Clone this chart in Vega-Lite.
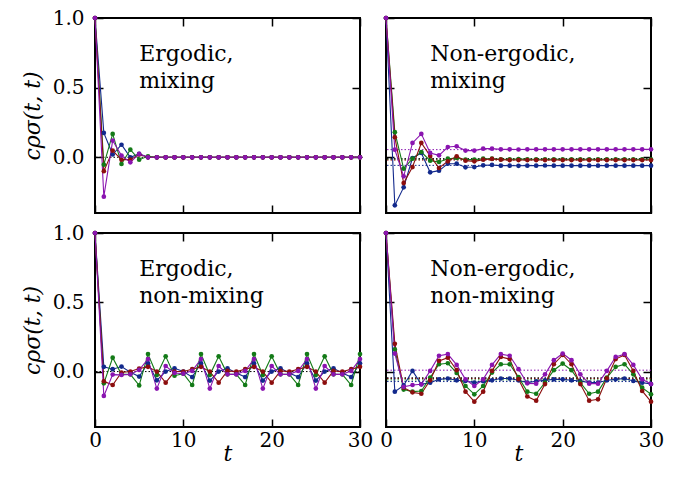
{
  "$schema": "https://vega.github.io/schema/vega-lite/v6.json",
  "padding": {"left": 20, "top": 7, "right": 5, "bottom": 5},
  "background": "white",
  "config": {
    "font": "DejaVu Serif",
    "view": {"stroke": "black", "strokeWidth": 2},
    "axis": {"domain": false, "grid": false, "ticks": true, "tickColor": "black", "tickWidth": 1.5, "tickSize": 8, "offset": -8, "labelColor": "black", "titleColor": "black", "labelFlush": false, "labelOverlap": false, "labelBound": false, "minExtent": 0, "titleFontWeight": "normal"}
  },
  "datasets": {
    "labels": [
      {"panel": "EM", "text": ["Ergodic,", "mixing"]},
      {"panel": "NM", "text": ["Non-ergodic,", "mixing"]},
      {"panel": "EN", "text": ["Ergodic,", "non-mixing"]},
      {"panel": "NN", "text": ["Non-ergodic,", "non-mixing"]}
    ],
    "refs": [
      {"panel": "EM", "series": "mean", "c": 0},
      {"panel": "EN", "series": "mean", "c": 0},
      {"panel": "NM", "series": "s4", "c": 0.055},
      {"panel": "NM", "series": "s2", "c": -0.014},
      {"panel": "NM", "series": "s3", "c": -0.02},
      {"panel": "NM", "series": "s1", "c": -0.058},
      {"panel": "NM", "series": "mean", "c": -0.01},
      {"panel": "NN", "series": "s4", "c": 0.01},
      {"panel": "NN", "series": "s3", "c": -0.05},
      {"panel": "NN", "series": "s2", "c": -0.06},
      {"panel": "NN", "series": "s1", "c": -0.072},
      {"panel": "NN", "series": "mean", "c": -0.045}
    ],
    "series": [
      {"panel":"EM","series":"s1","t":0,"c":1.0},{"panel":"EM","series":"s1","t":1,"c":0.175},{"panel":"EM","series":"s1","t":2,"c":0.02},{"panel":"EM","series":"s1","t":3,"c":0.09},{"panel":"EM","series":"s1","t":4,"c":0.0},{"panel":"EM","series":"s1","t":5,"c":0.024},{"panel":"EM","series":"s1","t":6,"c":0.0},{"panel":"EM","series":"s1","t":7,"c":0},{"panel":"EM","series":"s1","t":8,"c":0},{"panel":"EM","series":"s1","t":9,"c":0},{"panel":"EM","series":"s1","t":10,"c":0},{"panel":"EM","series":"s1","t":11,"c":0},{"panel":"EM","series":"s1","t":12,"c":0},{"panel":"EM","series":"s1","t":13,"c":0},{"panel":"EM","series":"s1","t":14,"c":0},{"panel":"EM","series":"s1","t":15,"c":0},{"panel":"EM","series":"s1","t":16,"c":0},{"panel":"EM","series":"s1","t":17,"c":0},{"panel":"EM","series":"s1","t":18,"c":0},{"panel":"EM","series":"s1","t":19,"c":0},{"panel":"EM","series":"s1","t":20,"c":0},{"panel":"EM","series":"s1","t":21,"c":0},{"panel":"EM","series":"s1","t":22,"c":0},{"panel":"EM","series":"s1","t":23,"c":0},{"panel":"EM","series":"s1","t":24,"c":0},{"panel":"EM","series":"s1","t":25,"c":0},{"panel":"EM","series":"s1","t":26,"c":0},{"panel":"EM","series":"s1","t":27,"c":0},{"panel":"EM","series":"s1","t":28,"c":0},{"panel":"EM","series":"s1","t":29,"c":0},{"panel":"EM","series":"s1","t":30,"c":0},
      {"panel":"EM","series":"s2","t":0,"c":1.0},{"panel":"EM","series":"s2","t":1,"c":-0.053},{"panel":"EM","series":"s2","t":2,"c":0.168},{"panel":"EM","series":"s2","t":3,"c":-0.048},{"panel":"EM","series":"s2","t":4,"c":0.055},{"panel":"EM","series":"s2","t":5,"c":-0.017},{"panel":"EM","series":"s2","t":6,"c":0.007},{"panel":"EM","series":"s2","t":7,"c":0},{"panel":"EM","series":"s2","t":8,"c":0},{"panel":"EM","series":"s2","t":9,"c":0},{"panel":"EM","series":"s2","t":10,"c":0},{"panel":"EM","series":"s2","t":11,"c":0},{"panel":"EM","series":"s2","t":12,"c":0},{"panel":"EM","series":"s2","t":13,"c":0},{"panel":"EM","series":"s2","t":14,"c":0},{"panel":"EM","series":"s2","t":15,"c":0},{"panel":"EM","series":"s2","t":16,"c":0},{"panel":"EM","series":"s2","t":17,"c":0},{"panel":"EM","series":"s2","t":18,"c":0},{"panel":"EM","series":"s2","t":19,"c":0},{"panel":"EM","series":"s2","t":20,"c":0},{"panel":"EM","series":"s2","t":21,"c":0},{"panel":"EM","series":"s2","t":22,"c":0},{"panel":"EM","series":"s2","t":23,"c":0},{"panel":"EM","series":"s2","t":24,"c":0},{"panel":"EM","series":"s2","t":25,"c":0},{"panel":"EM","series":"s2","t":26,"c":0},{"panel":"EM","series":"s2","t":27,"c":0},{"panel":"EM","series":"s2","t":28,"c":0},{"panel":"EM","series":"s2","t":29,"c":0},{"panel":"EM","series":"s2","t":30,"c":0},
      {"panel":"EM","series":"s3","t":0,"c":1.0},{"panel":"EM","series":"s3","t":1,"c":-0.1},{"panel":"EM","series":"s3","t":2,"c":0.048},{"panel":"EM","series":"s3","t":3,"c":-0.017},{"panel":"EM","series":"s3","t":4,"c":-0.017},{"panel":"EM","series":"s3","t":5,"c":0.02},{"panel":"EM","series":"s3","t":6,"c":0.0},{"panel":"EM","series":"s3","t":7,"c":0},{"panel":"EM","series":"s3","t":8,"c":0},{"panel":"EM","series":"s3","t":9,"c":0},{"panel":"EM","series":"s3","t":10,"c":0},{"panel":"EM","series":"s3","t":11,"c":0},{"panel":"EM","series":"s3","t":12,"c":0},{"panel":"EM","series":"s3","t":13,"c":0},{"panel":"EM","series":"s3","t":14,"c":0},{"panel":"EM","series":"s3","t":15,"c":0},{"panel":"EM","series":"s3","t":16,"c":0},{"panel":"EM","series":"s3","t":17,"c":0},{"panel":"EM","series":"s3","t":18,"c":0},{"panel":"EM","series":"s3","t":19,"c":0},{"panel":"EM","series":"s3","t":20,"c":0},{"panel":"EM","series":"s3","t":21,"c":0},{"panel":"EM","series":"s3","t":22,"c":0},{"panel":"EM","series":"s3","t":23,"c":0},{"panel":"EM","series":"s3","t":24,"c":0},{"panel":"EM","series":"s3","t":25,"c":0},{"panel":"EM","series":"s3","t":26,"c":0},{"panel":"EM","series":"s3","t":27,"c":0},{"panel":"EM","series":"s3","t":28,"c":0},{"panel":"EM","series":"s3","t":29,"c":0},{"panel":"EM","series":"s3","t":30,"c":0},
      {"panel":"EM","series":"s4","t":0,"c":1.0},{"panel":"EM","series":"s4","t":1,"c":-0.283},{"panel":"EM","series":"s4","t":2,"c":0.12},{"panel":"EM","series":"s4","t":3,"c":0.012},{"panel":"EM","series":"s4","t":4,"c":-0.036},{"panel":"EM","series":"s4","t":5,"c":0.024},{"panel":"EM","series":"s4","t":6,"c":0.0},{"panel":"EM","series":"s4","t":7,"c":0},{"panel":"EM","series":"s4","t":8,"c":0},{"panel":"EM","series":"s4","t":9,"c":0},{"panel":"EM","series":"s4","t":10,"c":0},{"panel":"EM","series":"s4","t":11,"c":0},{"panel":"EM","series":"s4","t":12,"c":0},{"panel":"EM","series":"s4","t":13,"c":0},{"panel":"EM","series":"s4","t":14,"c":0},{"panel":"EM","series":"s4","t":15,"c":0},{"panel":"EM","series":"s4","t":16,"c":0},{"panel":"EM","series":"s4","t":17,"c":0},{"panel":"EM","series":"s4","t":18,"c":0},{"panel":"EM","series":"s4","t":19,"c":0},{"panel":"EM","series":"s4","t":20,"c":0},{"panel":"EM","series":"s4","t":21,"c":0},{"panel":"EM","series":"s4","t":22,"c":0},{"panel":"EM","series":"s4","t":23,"c":0},{"panel":"EM","series":"s4","t":24,"c":0},{"panel":"EM","series":"s4","t":25,"c":0},{"panel":"EM","series":"s4","t":26,"c":0},{"panel":"EM","series":"s4","t":27,"c":0},{"panel":"EM","series":"s4","t":28,"c":0},{"panel":"EM","series":"s4","t":29,"c":0},{"panel":"EM","series":"s4","t":30,"c":0},

      {"panel":"NM","series":"s1","t":0,"c":1.0},{"panel":"NM","series":"s1","t":1,"c":-0.345},{"panel":"NM","series":"s1","t":2,"c":-0.216},{"panel":"NM","series":"s1","t":3,"c":-0.005},{"panel":"NM","series":"s1","t":4,"c":0.031},{"panel":"NM","series":"s1","t":5,"c":-0.108},{"panel":"NM","series":"s1","t":6,"c":-0.096},{"panel":"NM","series":"s1","t":7,"c":-0.046},{"panel":"NM","series":"s1","t":8,"c":-0.046},{"panel":"NM","series":"s1","t":9,"c":-0.072},{"panel":"NM","series":"s1","t":10,"c":-0.07},{"panel":"NM","series":"s1","t":11,"c":-0.058},{"panel":"NM","series":"s1","t":12,"c":-0.055},{"panel":"NM","series":"s1","t":13,"c":-0.06},{"panel":"NM","series":"s1","t":14,"c":-0.06},{"panel":"NM","series":"s1","t":15,"c":-0.061},{"panel":"NM","series":"s1","t":16,"c":-0.06},{"panel":"NM","series":"s1","t":17,"c":-0.06},{"panel":"NM","series":"s1","t":18,"c":-0.059},{"panel":"NM","series":"s1","t":19,"c":-0.06},{"panel":"NM","series":"s1","t":20,"c":-0.06},{"panel":"NM","series":"s1","t":21,"c":-0.06},{"panel":"NM","series":"s1","t":22,"c":-0.06},{"panel":"NM","series":"s1","t":23,"c":-0.06},{"panel":"NM","series":"s1","t":24,"c":-0.06},{"panel":"NM","series":"s1","t":25,"c":-0.06},{"panel":"NM","series":"s1","t":26,"c":-0.06},{"panel":"NM","series":"s1","t":27,"c":-0.06},{"panel":"NM","series":"s1","t":28,"c":-0.06},{"panel":"NM","series":"s1","t":29,"c":-0.06},{"panel":"NM","series":"s1","t":30,"c":-0.06},
      {"panel":"NM","series":"s2","t":0,"c":1.0},{"panel":"NM","series":"s2","t":1,"c":0.18},{"panel":"NM","series":"s2","t":2,"c":-0.082},{"panel":"NM","series":"s2","t":3,"c":-0.01},{"panel":"NM","series":"s2","t":4,"c":0.038},{"panel":"NM","series":"s2","t":5,"c":-0.024},{"panel":"NM","series":"s2","t":6,"c":-0.034},{"panel":"NM","series":"s2","t":7,"c":-0.01},{"panel":"NM","series":"s2","t":8,"c":-0.005},{"panel":"NM","series":"s2","t":9,"c":-0.017},{"panel":"NM","series":"s2","t":10,"c":-0.017},{"panel":"NM","series":"s2","t":11,"c":-0.01},{"panel":"NM","series":"s2","t":12,"c":-0.01},{"panel":"NM","series":"s2","t":13,"c":-0.014},{"panel":"NM","series":"s2","t":14,"c":-0.014},{"panel":"NM","series":"s2","t":15,"c":-0.013},{"panel":"NM","series":"s2","t":16,"c":-0.014},{"panel":"NM","series":"s2","t":17,"c":-0.014},{"panel":"NM","series":"s2","t":18,"c":-0.014},{"panel":"NM","series":"s2","t":19,"c":-0.014},{"panel":"NM","series":"s2","t":20,"c":-0.014},{"panel":"NM","series":"s2","t":21,"c":-0.014},{"panel":"NM","series":"s2","t":22,"c":-0.014},{"panel":"NM","series":"s2","t":23,"c":-0.014},{"panel":"NM","series":"s2","t":24,"c":-0.014},{"panel":"NM","series":"s2","t":25,"c":-0.014},{"panel":"NM","series":"s2","t":26,"c":-0.014},{"panel":"NM","series":"s2","t":27,"c":-0.014},{"panel":"NM","series":"s2","t":28,"c":-0.014},{"panel":"NM","series":"s2","t":29,"c":-0.014},{"panel":"NM","series":"s2","t":30,"c":-0.014},
      {"panel":"NM","series":"s3","t":0,"c":1.0},{"panel":"NM","series":"s3","t":1,"c":0.144},{"panel":"NM","series":"s3","t":2,"c":-0.185},{"panel":"NM","series":"s3","t":3,"c":-0.07},{"panel":"NM","series":"s3","t":4,"c":0.103},{"panel":"NM","series":"s3","t":5,"c":0.01},{"panel":"NM","series":"s3","t":6,"c":-0.077},{"panel":"NM","series":"s3","t":7,"c":-0.029},{"panel":"NM","series":"s3","t":8,"c":0.007},{"panel":"NM","series":"s3","t":9,"c":-0.024},{"panel":"NM","series":"s3","t":10,"c":-0.029},{"panel":"NM","series":"s3","t":11,"c":-0.017},{"panel":"NM","series":"s3","t":12,"c":-0.012},{"panel":"NM","series":"s3","t":13,"c":-0.017},{"panel":"NM","series":"s3","t":14,"c":-0.02},{"panel":"NM","series":"s3","t":15,"c":-0.02},{"panel":"NM","series":"s3","t":16,"c":-0.02},{"panel":"NM","series":"s3","t":17,"c":-0.02},{"panel":"NM","series":"s3","t":18,"c":-0.02},{"panel":"NM","series":"s3","t":19,"c":-0.02},{"panel":"NM","series":"s3","t":20,"c":-0.02},{"panel":"NM","series":"s3","t":21,"c":-0.02},{"panel":"NM","series":"s3","t":22,"c":-0.02},{"panel":"NM","series":"s3","t":23,"c":-0.02},{"panel":"NM","series":"s3","t":24,"c":-0.02},{"panel":"NM","series":"s3","t":25,"c":-0.02},{"panel":"NM","series":"s3","t":26,"c":-0.02},{"panel":"NM","series":"s3","t":27,"c":-0.02},{"panel":"NM","series":"s3","t":28,"c":-0.02},{"panel":"NM","series":"s3","t":29,"c":-0.02},{"panel":"NM","series":"s3","t":30,"c":-0.02},
      {"panel":"NM","series":"s4","t":0,"c":1.0},{"panel":"NM","series":"s4","t":1,"c":0.055},{"panel":"NM","series":"s4","t":2,"c":-0.137},{"panel":"NM","series":"s4","t":3,"c":0.103},{"panel":"NM","series":"s4","t":4,"c":0.168},{"panel":"NM","series":"s4","t":5,"c":0.031},{"panel":"NM","series":"s4","t":6,"c":0.014},{"panel":"NM","series":"s4","t":7,"c":0.074},{"panel":"NM","series":"s4","t":8,"c":0.079},{"panel":"NM","series":"s4","t":9,"c":0.048},{"panel":"NM","series":"s4","t":10,"c":0.048},{"panel":"NM","series":"s4","t":11,"c":0.062},{"panel":"NM","series":"s4","t":12,"c":0.062},{"panel":"NM","series":"s4","t":13,"c":0.057},{"panel":"NM","series":"s4","t":14,"c":0.057},{"panel":"NM","series":"s4","t":15,"c":0.056},{"panel":"NM","series":"s4","t":16,"c":0.057},{"panel":"NM","series":"s4","t":17,"c":0.057},{"panel":"NM","series":"s4","t":18,"c":0.057},{"panel":"NM","series":"s4","t":19,"c":0.057},{"panel":"NM","series":"s4","t":20,"c":0.057},{"panel":"NM","series":"s4","t":21,"c":0.057},{"panel":"NM","series":"s4","t":22,"c":0.057},{"panel":"NM","series":"s4","t":23,"c":0.057},{"panel":"NM","series":"s4","t":24,"c":0.057},{"panel":"NM","series":"s4","t":25,"c":0.057},{"panel":"NM","series":"s4","t":26,"c":0.057},{"panel":"NM","series":"s4","t":27,"c":0.057},{"panel":"NM","series":"s4","t":28,"c":0.057},{"panel":"NM","series":"s4","t":29,"c":0.057},{"panel":"NM","series":"s4","t":30,"c":0.057},

      {"panel":"EN","series":"s1","t":0,"c":1.0},{"panel":"EN","series":"s1","t":1,"c":0.034},{"panel":"EN","series":"s1","t":2,"c":0.017},{"panel":"EN","series":"s1","t":3,"c":0.036},{"panel":"EN","series":"s1","t":4,"c":-0.005},{"panel":"EN","series":"s1","t":5,"c":-0.036},{"panel":"EN","series":"s1","t":6,"c":0.06},{"panel":"EN","series":"s1","t":7,"c":-0.063},{"panel":"EN","series":"s1","t":8,"c":0.0},{"panel":"EN","series":"s1","t":9,"c":0.024},{"panel":"EN","series":"s1","t":10,"c":0.0},{"panel":"EN","series":"s1","t":11,"c":-0.04},{"panel":"EN","series":"s1","t":12,"c":0.06},{"panel":"EN","series":"s1","t":13,"c":-0.065},{"panel":"EN","series":"s1","t":14,"c":0.0},{"panel":"EN","series":"s1","t":15,"c":0.024},{"panel":"EN","series":"s1","t":16,"c":-0.01},{"panel":"EN","series":"s1","t":17,"c":-0.04},{"panel":"EN","series":"s1","t":18,"c":0.06},{"panel":"EN","series":"s1","t":19,"c":-0.065},{"panel":"EN","series":"s1","t":20,"c":0.0},{"panel":"EN","series":"s1","t":21,"c":0.024},{"panel":"EN","series":"s1","t":22,"c":-0.01},{"panel":"EN","series":"s1","t":23,"c":-0.04},{"panel":"EN","series":"s1","t":24,"c":0.06},{"panel":"EN","series":"s1","t":25,"c":-0.065},{"panel":"EN","series":"s1","t":26,"c":0.0},{"panel":"EN","series":"s1","t":27,"c":0.024},{"panel":"EN","series":"s1","t":28,"c":-0.01},{"panel":"EN","series":"s1","t":29,"c":-0.04},{"panel":"EN","series":"s1","t":30,"c":0.06},
      {"panel":"EN","series":"s2","t":0,"c":1.0},{"panel":"EN","series":"s2","t":1,"c":-0.085},{"panel":"EN","series":"s2","t":2,"c":0.10},{"panel":"EN","series":"s2","t":3,"c":-0.02},{"panel":"EN","series":"s2","t":4,"c":-0.02},{"panel":"EN","series":"s2","t":5,"c":-0.1},{"panel":"EN","series":"s2","t":6,"c":0.126},{"panel":"EN","series":"s2","t":7,"c":-0.025},{"panel":"EN","series":"s2","t":8,"c":0.11},{"panel":"EN","series":"s2","t":9,"c":-0.03},{"panel":"EN","series":"s2","t":10,"c":-0.015},{"panel":"EN","series":"s2","t":11,"c":-0.097},{"panel":"EN","series":"s2","t":12,"c":0.126},{"panel":"EN","series":"s2","t":13,"c":-0.025},{"panel":"EN","series":"s2","t":14,"c":0.11},{"panel":"EN","series":"s2","t":15,"c":-0.02},{"panel":"EN","series":"s2","t":16,"c":-0.02},{"panel":"EN","series":"s2","t":17,"c":-0.097},{"panel":"EN","series":"s2","t":18,"c":0.126},{"panel":"EN","series":"s2","t":19,"c":-0.025},{"panel":"EN","series":"s2","t":20,"c":0.11},{"panel":"EN","series":"s2","t":21,"c":-0.02},{"panel":"EN","series":"s2","t":22,"c":-0.02},{"panel":"EN","series":"s2","t":23,"c":-0.097},{"panel":"EN","series":"s2","t":24,"c":0.126},{"panel":"EN","series":"s2","t":25,"c":-0.025},{"panel":"EN","series":"s2","t":26,"c":0.11},{"panel":"EN","series":"s2","t":27,"c":-0.02},{"panel":"EN","series":"s2","t":28,"c":-0.02},{"panel":"EN","series":"s2","t":29,"c":-0.097},{"panel":"EN","series":"s2","t":30,"c":0.126},
      {"panel":"EN","series":"s3","t":0,"c":1.0},{"panel":"EN","series":"s3","t":1,"c":-0.07},{"panel":"EN","series":"s3","t":2,"c":-0.097},{"panel":"EN","series":"s3","t":3,"c":-0.007},{"panel":"EN","series":"s3","t":4,"c":0.0},{"panel":"EN","series":"s3","t":5,"c":0.022},{"panel":"EN","series":"s3","t":6,"c":0.034},{"panel":"EN","series":"s3","t":7,"c":0.0},{"panel":"EN","series":"s3","t":8,"c":-0.08},{"panel":"EN","series":"s3","t":9,"c":0.0},{"panel":"EN","series":"s3","t":10,"c":0.0},{"panel":"EN","series":"s3","t":11,"c":0.017},{"panel":"EN","series":"s3","t":12,"c":0.034},{"panel":"EN","series":"s3","t":13,"c":0.0},{"panel":"EN","series":"s3","t":14,"c":-0.08},{"panel":"EN","series":"s3","t":15,"c":0.005},{"panel":"EN","series":"s3","t":16,"c":0.0},{"panel":"EN","series":"s3","t":17,"c":0.017},{"panel":"EN","series":"s3","t":18,"c":0.034},{"panel":"EN","series":"s3","t":19,"c":0.0},{"panel":"EN","series":"s3","t":20,"c":-0.08},{"panel":"EN","series":"s3","t":21,"c":0.005},{"panel":"EN","series":"s3","t":22,"c":0.0},{"panel":"EN","series":"s3","t":23,"c":0.017},{"panel":"EN","series":"s3","t":24,"c":0.034},{"panel":"EN","series":"s3","t":25,"c":0.0},{"panel":"EN","series":"s3","t":26,"c":-0.08},{"panel":"EN","series":"s3","t":27,"c":0.005},{"panel":"EN","series":"s3","t":28,"c":0.0},{"panel":"EN","series":"s3","t":29,"c":0.017},{"panel":"EN","series":"s3","t":30,"c":0.034},
      {"panel":"EN","series":"s4","t":0,"c":1.0},{"panel":"EN","series":"s4","t":1,"c":-0.176},{"panel":"EN","series":"s4","t":2,"c":-0.022},{"panel":"EN","series":"s4","t":3,"c":-0.024},{"panel":"EN","series":"s4","t":4,"c":-0.02},{"panel":"EN","series":"s4","t":5,"c":0.012},{"panel":"EN","series":"s4","t":6,"c":0.09},{"panel":"EN","series":"s4","t":7,"c":-0.123},{"panel":"EN","series":"s4","t":8,"c":0.04},{"panel":"EN","series":"s4","t":9,"c":-0.01},{"panel":"EN","series":"s4","t":10,"c":-0.015},{"panel":"EN","series":"s4","t":11,"c":0.005},{"panel":"EN","series":"s4","t":12,"c":0.09},{"panel":"EN","series":"s4","t":13,"c":-0.123},{"panel":"EN","series":"s4","t":14,"c":0.04},{"panel":"EN","series":"s4","t":15,"c":-0.02},{"panel":"EN","series":"s4","t":16,"c":-0.02},{"panel":"EN","series":"s4","t":17,"c":0.005},{"panel":"EN","series":"s4","t":18,"c":0.09},{"panel":"EN","series":"s4","t":19,"c":-0.123},{"panel":"EN","series":"s4","t":20,"c":0.04},{"panel":"EN","series":"s4","t":21,"c":-0.02},{"panel":"EN","series":"s4","t":22,"c":-0.02},{"panel":"EN","series":"s4","t":23,"c":0.005},{"panel":"EN","series":"s4","t":24,"c":0.09},{"panel":"EN","series":"s4","t":25,"c":-0.123},{"panel":"EN","series":"s4","t":26,"c":0.04},{"panel":"EN","series":"s4","t":27,"c":-0.02},{"panel":"EN","series":"s4","t":28,"c":-0.02},{"panel":"EN","series":"s4","t":29,"c":0.005},{"panel":"EN","series":"s4","t":30,"c":0.09},

      {"panel":"NN","series":"s1","t":0,"c":1.0},{"panel":"NN","series":"s1","t":1,"c":-0.145},{"panel":"NN","series":"s1","t":2,"c":-0.1},{"panel":"NN","series":"s1","t":3,"c":0.005},{"panel":"NN","series":"s1","t":4,"c":-0.092},{"panel":"NN","series":"s1","t":5,"c":-0.08},{"panel":"NN","series":"s1","t":6,"c":-0.056},{"panel":"NN","series":"s1","t":7,"c":-0.05},{"panel":"NN","series":"s1","t":8,"c":-0.063},{"panel":"NN","series":"s1","t":9,"c":-0.068},{"panel":"NN","series":"s1","t":10,"c":-0.08},{"panel":"NN","series":"s1","t":11,"c":-0.07},{"panel":"NN","series":"s1","t":12,"c":-0.063},{"panel":"NN","series":"s1","t":13,"c":-0.05},{"panel":"NN","series":"s1","t":14,"c":-0.05},{"panel":"NN","series":"s1","t":15,"c":-0.063},{"panel":"NN","series":"s1","t":16,"c":-0.08},{"panel":"NN","series":"s1","t":17,"c":-0.07},{"panel":"NN","series":"s1","t":18,"c":-0.063},{"panel":"NN","series":"s1","t":19,"c":-0.056},{"panel":"NN","series":"s1","t":20,"c":-0.056},{"panel":"NN","series":"s1","t":21,"c":-0.063},{"panel":"NN","series":"s1","t":22,"c":-0.068},{"panel":"NN","series":"s1","t":23,"c":-0.08},{"panel":"NN","series":"s1","t":24,"c":-0.08},{"panel":"NN","series":"s1","t":25,"c":-0.063},{"panel":"NN","series":"s1","t":26,"c":-0.056},{"panel":"NN","series":"s1","t":27,"c":-0.05},{"panel":"NN","series":"s1","t":28,"c":-0.068},{"panel":"NN","series":"s1","t":29,"c":-0.08},{"panel":"NN","series":"s1","t":30,"c":-0.09},
      {"panel":"NN","series":"s2","t":0,"c":1.0},{"panel":"NN","series":"s2","t":1,"c":0.16},{"panel":"NN","series":"s2","t":2,"c":-0.13},{"panel":"NN","series":"s2","t":3,"c":-0.145},{"panel":"NN","series":"s2","t":4,"c":-0.14},{"panel":"NN","series":"s2","t":5,"c":-0.043},{"panel":"NN","series":"s2","t":6,"c":0.053},{"panel":"NN","series":"s2","t":7,"c":0.06},{"panel":"NN","series":"s2","t":8,"c":-0.01},{"panel":"NN","series":"s2","t":9,"c":-0.104},{"panel":"NN","series":"s2","t":10,"c":-0.164},{"panel":"NN","series":"s2","t":11,"c":-0.104},{"panel":"NN","series":"s2","t":12,"c":-0.007},{"panel":"NN","series":"s2","t":13,"c":0.053},{"panel":"NN","series":"s2","t":14,"c":0.053},{"panel":"NN","series":"s2","t":15,"c":-0.04},{"panel":"NN","series":"s2","t":16,"c":-0.145},{"panel":"NN","series":"s2","t":17,"c":-0.16},{"panel":"NN","series":"s2","t":18,"c":-0.08},{"panel":"NN","series":"s2","t":19,"c":0.01},{"panel":"NN","series":"s2","t":20,"c":0.058},{"panel":"NN","series":"s2","t":21,"c":0.01},{"panel":"NN","series":"s2","t":22,"c":-0.08},{"panel":"NN","series":"s2","t":23,"c":-0.16},{"panel":"NN","series":"s2","t":24,"c":-0.145},{"panel":"NN","series":"s2","t":25,"c":-0.043},{"panel":"NN","series":"s2","t":26,"c":0.034},{"panel":"NN","series":"s2","t":27,"c":0.053},{"panel":"NN","series":"s2","t":28,"c":-0.02},{"panel":"NN","series":"s2","t":29,"c":-0.116},{"panel":"NN","series":"s2","t":30,"c":-0.164},
      {"panel":"NN","series":"s3","t":0,"c":1.0},{"panel":"NN","series":"s3","t":1,"c":0.2},{"panel":"NN","series":"s3","t":2,"c":-0.116},{"panel":"NN","series":"s3","t":3,"c":-0.15},{"panel":"NN","series":"s3","t":4,"c":-0.16},{"panel":"NN","series":"s3","t":5,"c":-0.063},{"panel":"NN","series":"s3","t":6,"c":0.077},{"panel":"NN","series":"s3","t":7,"c":0.1},{"panel":"NN","series":"s3","t":8,"c":0.01},{"panel":"NN","series":"s3","t":9,"c":-0.145},{"panel":"NN","series":"s3","t":10,"c":-0.217},{"panel":"NN","series":"s3","t":11,"c":-0.145},{"panel":"NN","series":"s3","t":12,"c":0.005},{"panel":"NN","series":"s3","t":13,"c":0.106},{"panel":"NN","series":"s3","t":14,"c":0.09},{"panel":"NN","series":"s3","t":15,"c":-0.055},{"panel":"NN","series":"s3","t":16,"c":-0.18},{"panel":"NN","series":"s3","t":17,"c":-0.21},{"panel":"NN","series":"s3","t":18,"c":-0.09},{"panel":"NN","series":"s3","t":19,"c":0.053},{"panel":"NN","series":"s3","t":20,"c":0.12},{"panel":"NN","series":"s3","t":21,"c":0.053},{"panel":"NN","series":"s3","t":22,"c":-0.09},{"panel":"NN","series":"s3","t":23,"c":-0.21},{"panel":"NN","series":"s3","t":24,"c":-0.2},{"panel":"NN","series":"s3","t":25,"c":-0.048},{"panel":"NN","series":"s3","t":26,"c":0.09},{"panel":"NN","series":"s3","t":27,"c":0.12},{"panel":"NN","series":"s3","t":28,"c":0.005},{"panel":"NN","series":"s3","t":29,"c":-0.14},{"panel":"NN","series":"s3","t":30,"c":-0.217},
      {"panel":"NN","series":"s4","t":0,"c":1.0},{"panel":"NN","series":"s4","t":1,"c":0.13},{"panel":"NN","series":"s4","t":2,"c":-0.11},{"panel":"NN","series":"s4","t":3,"c":-0.097},{"panel":"NN","series":"s4","t":4,"c":-0.092},{"panel":"NN","series":"s4","t":5,"c":0.005},{"panel":"NN","series":"s4","t":6,"c":0.114},{"panel":"NN","series":"s4","t":7,"c":0.126},{"panel":"NN","series":"s4","t":8,"c":0.048},{"panel":"NN","series":"s4","t":9,"c":-0.056},{"panel":"NN","series":"s4","t":10,"c":-0.104},{"panel":"NN","series":"s4","t":11,"c":-0.056},{"panel":"NN","series":"s4","t":12,"c":0.048},{"panel":"NN","series":"s4","t":13,"c":0.126},{"panel":"NN","series":"s4","t":14,"c":0.114},{"panel":"NN","series":"s4","t":15,"c":0.017},{"panel":"NN","series":"s4","t":16,"c":-0.085},{"panel":"NN","series":"s4","t":17,"c":-0.087},{"panel":"NN","series":"s4","t":18,"c":-0.02},{"panel":"NN","series":"s4","t":19,"c":0.082},{"panel":"NN","series":"s4","t":20,"c":0.13},{"panel":"NN","series":"s4","t":21,"c":0.082},{"panel":"NN","series":"s4","t":22,"c":-0.02},{"panel":"NN","series":"s4","t":23,"c":-0.087},{"panel":"NN","series":"s4","t":24,"c":-0.087},{"panel":"NN","series":"s4","t":25,"c":0.005},{"panel":"NN","series":"s4","t":26,"c":0.106},{"panel":"NN","series":"s4","t":27,"c":0.126},{"panel":"NN","series":"s4","t":28,"c":0.048},{"panel":"NN","series":"s4","t":29,"c":-0.056},{"panel":"NN","series":"s4","t":30,"c":-0.09}
    ]
  },
  "columns": 2,
  "bounds": "flush",
  "spacing": {"row": 20, "column": 26},
  "concat": [
    {
      "width": 265, "height": 195,
      "resolve": {"axis": {"x": "independent", "y": "independent"}},
      "layer": [
        {"data": {"name": "refs"}, "transform": [{"filter": "datum.panel === 'EM'"}],
         "mark": {"type": "rule", "strokeDash": [1.5, 2], "strokeWidth": 1},
         "encoding": {"y": {"field": "c", "type": "quantitative", "scale": {"domain": [-0.4, 1], "nice": false, "zero": false}, "axis": null},
                      "color": {"field": "series", "type": "nominal", "scale": {"domain": ["s1","s2","s3","s4","mean"], "range": ["#12298c","#137a17","#8c0e0e","#8a14b0","black"]}, "legend": null}}},
        {"data": {"name": "series"}, "transform": [{"filter": "datum.panel === 'EM'"}],
         "mark": {"type": "line", "strokeWidth": 1.1, "point": {"filled": true, "size": 22}},
         "encoding": {
           "x": {"field": "t", "type": "quantitative", "scale": {"domain": [0, 30], "nice": false, "zero": false}, "axis": {"orient": "bottom", "values": [0,10,20,30], "labels": false, "title": null}},
           "y": {"field": "c", "type": "quantitative", "scale": {"domain": [-0.4, 1], "nice": false, "zero": false}, "axis": {"orient": "left", "values": [0,0.5,1], "format": ".1f", "labelFontSize": 20, "labelPadding": 11, "title": "cρσ(t, t)", "titleFontSize": 22, "titleFontStyle": "italic", "titlePadding": 8}},
           "color": {"field": "series", "type": "nominal", "scale": {"domain": ["s1","s2","s3","s4","mean"], "range": ["#12298c","#137a17","#8c0e0e","#8a14b0","black"]}, "legend": null}}},
        {"data": {"name": "series"}, "transform": [{"filter": "datum.panel === 'EM'"}],
         "mark": {"type": "point", "opacity": 0},
         "encoding": {
           "x": {"field": "t", "type": "quantitative", "scale": {"domain": [0, 30], "nice": false, "zero": false}, "axis": {"orient": "top", "values": [0,10,20,30], "labels": false, "title": null}},
           "y": {"field": "c", "type": "quantitative", "scale": {"domain": [-0.4, 1], "nice": false, "zero": false}, "axis": {"orient": "right", "values": [0,0.5,1], "labels": false, "title": null}}}},
        {"data": {"name": "labels"}, "transform": [{"filter": "datum.panel === 'EM'"}],
         "mark": {"type": "text", "align": "left", "baseline": "alphabetic", "fontSize": 22, "lineHeight": 27, "color": "black"},
         "encoding": {"x": {"datum": 5, "type": "quantitative", "axis": null}, "y": {"datum": 0.69, "type": "quantitative", "axis": null}, "text": {"field": "text"}}}
      ]
    },
    {
      "width": 265, "height": 195,
      "resolve": {"axis": {"x": "independent", "y": "independent"}},
      "layer": [
        {"data": {"name": "refs"}, "transform": [{"filter": "datum.panel === 'NM'"}],
         "mark": {"type": "rule", "strokeDash": [1.5, 2], "strokeWidth": 1},
         "encoding": {"y": {"field": "c", "type": "quantitative", "scale": {"domain": [-0.4, 1], "nice": false, "zero": false}, "axis": null},
                      "color": {"field": "series", "type": "nominal", "scale": {"domain": ["s1","s2","s3","s4","mean"], "range": ["#12298c","#137a17","#8c0e0e","#8a14b0","black"]}, "legend": null}}},
        {"data": {"name": "series"}, "transform": [{"filter": "datum.panel === 'NM'"}],
         "mark": {"type": "line", "strokeWidth": 1.1, "point": {"filled": true, "size": 22}},
         "encoding": {
           "x": {"field": "t", "type": "quantitative", "scale": {"domain": [0, 30], "nice": false, "zero": false}, "axis": {"orient": "bottom", "values": [0,10,20,30], "labels": false, "title": null}},
           "y": {"field": "c", "type": "quantitative", "scale": {"domain": [-0.4, 1], "nice": false, "zero": false}, "axis": {"orient": "left", "values": [0,0.5,1], "labels": false, "title": null}},
           "color": {"field": "series", "type": "nominal", "scale": {"domain": ["s1","s2","s3","s4","mean"], "range": ["#12298c","#137a17","#8c0e0e","#8a14b0","black"]}, "legend": null}}},
        {"data": {"name": "series"}, "transform": [{"filter": "datum.panel === 'NM'"}],
         "mark": {"type": "point", "opacity": 0},
         "encoding": {
           "x": {"field": "t", "type": "quantitative", "scale": {"domain": [0, 30], "nice": false, "zero": false}, "axis": {"orient": "top", "values": [0,10,20,30], "labels": false, "title": null}},
           "y": {"field": "c", "type": "quantitative", "scale": {"domain": [-0.4, 1], "nice": false, "zero": false}, "axis": {"orient": "right", "values": [0,0.5,1], "labels": false, "title": null}}}},
        {"data": {"name": "labels"}, "transform": [{"filter": "datum.panel === 'NM'"}],
         "mark": {"type": "text", "align": "left", "baseline": "alphabetic", "fontSize": 22, "lineHeight": 27, "color": "black"},
         "encoding": {"x": {"datum": 5, "type": "quantitative", "axis": null}, "y": {"datum": 0.69, "type": "quantitative", "axis": null}, "text": {"field": "text"}}}
      ]
    },
    {
      "width": 265, "height": 194,
      "resolve": {"axis": {"x": "independent", "y": "independent"}},
      "layer": [
        {"data": {"name": "refs"}, "transform": [{"filter": "datum.panel === 'EN'"}],
         "mark": {"type": "rule", "strokeDash": [1.5, 2], "strokeWidth": 1},
         "encoding": {"y": {"field": "c", "type": "quantitative", "scale": {"domain": [-0.4, 1], "nice": false, "zero": false}, "axis": null},
                      "color": {"field": "series", "type": "nominal", "scale": {"domain": ["s1","s2","s3","s4","mean"], "range": ["#12298c","#137a17","#8c0e0e","#8a14b0","black"]}, "legend": null}}},
        {"data": {"name": "series"}, "transform": [{"filter": "datum.panel === 'EN'"}],
         "mark": {"type": "line", "strokeWidth": 1.1, "point": {"filled": true, "size": 22}},
         "encoding": {
           "x": {"field": "t", "type": "quantitative", "scale": {"domain": [0, 30], "nice": false, "zero": false}, "axis": {"orient": "bottom", "values": [0,10,20,30], "format": "d", "labelFontSize": 20, "labelPadding": 3, "title": "t", "titleFontSize": 22, "titleFontStyle": "italic", "titlePadding": -7}},
           "y": {"field": "c", "type": "quantitative", "scale": {"domain": [-0.4, 1], "nice": false, "zero": false}, "axis": {"orient": "left", "values": [0,0.5,1], "format": ".1f", "labelFontSize": 20, "labelPadding": 11, "title": "cρσ(t, t)", "titleFontSize": 22, "titleFontStyle": "italic", "titlePadding": 8}},
           "color": {"field": "series", "type": "nominal", "scale": {"domain": ["s1","s2","s3","s4","mean"], "range": ["#12298c","#137a17","#8c0e0e","#8a14b0","black"]}, "legend": null}}},
        {"data": {"name": "series"}, "transform": [{"filter": "datum.panel === 'EN'"}],
         "mark": {"type": "point", "opacity": 0},
         "encoding": {
           "x": {"field": "t", "type": "quantitative", "scale": {"domain": [0, 30], "nice": false, "zero": false}, "axis": {"orient": "top", "values": [0,10,20,30], "labels": false, "title": null}},
           "y": {"field": "c", "type": "quantitative", "scale": {"domain": [-0.4, 1], "nice": false, "zero": false}, "axis": {"orient": "right", "values": [0,0.5,1], "labels": false, "title": null}}}},
        {"data": {"name": "labels"}, "transform": [{"filter": "datum.panel === 'EN'"}],
         "mark": {"type": "text", "align": "left", "baseline": "alphabetic", "fontSize": 22, "lineHeight": 27, "color": "black"},
         "encoding": {"x": {"datum": 5, "type": "quantitative", "axis": null}, "y": {"datum": 0.69, "type": "quantitative", "axis": null}, "text": {"field": "text"}}}
      ]
    },
    {
      "width": 265, "height": 194,
      "resolve": {"axis": {"x": "independent", "y": "independent"}},
      "layer": [
        {"data": {"name": "refs"}, "transform": [{"filter": "datum.panel === 'NN'"}],
         "mark": {"type": "rule", "strokeDash": [1.5, 2], "strokeWidth": 1},
         "encoding": {"y": {"field": "c", "type": "quantitative", "scale": {"domain": [-0.4, 1], "nice": false, "zero": false}, "axis": null},
                      "color": {"field": "series", "type": "nominal", "scale": {"domain": ["s1","s2","s3","s4","mean"], "range": ["#12298c","#137a17","#8c0e0e","#8a14b0","black"]}, "legend": null}}},
        {"data": {"name": "series"}, "transform": [{"filter": "datum.panel === 'NN'"}],
         "mark": {"type": "line", "strokeWidth": 1.1, "point": {"filled": true, "size": 22}},
         "encoding": {
           "x": {"field": "t", "type": "quantitative", "scale": {"domain": [0, 30], "nice": false, "zero": false}, "axis": {"orient": "bottom", "values": [0,10,20,30], "format": "d", "labelFontSize": 20, "labelPadding": 3, "title": "t", "titleFontSize": 22, "titleFontStyle": "italic", "titlePadding": -7}},
           "y": {"field": "c", "type": "quantitative", "scale": {"domain": [-0.4, 1], "nice": false, "zero": false}, "axis": {"orient": "left", "values": [0,0.5,1], "labels": false, "title": null}},
           "color": {"field": "series", "type": "nominal", "scale": {"domain": ["s1","s2","s3","s4","mean"], "range": ["#12298c","#137a17","#8c0e0e","#8a14b0","black"]}, "legend": null}}},
        {"data": {"name": "series"}, "transform": [{"filter": "datum.panel === 'NN'"}],
         "mark": {"type": "point", "opacity": 0},
         "encoding": {
           "x": {"field": "t", "type": "quantitative", "scale": {"domain": [0, 30], "nice": false, "zero": false}, "axis": {"orient": "top", "values": [0,10,20,30], "labels": false, "title": null}},
           "y": {"field": "c", "type": "quantitative", "scale": {"domain": [-0.4, 1], "nice": false, "zero": false}, "axis": {"orient": "right", "values": [0,0.5,1], "labels": false, "title": null}}}},
        {"data": {"name": "labels"}, "transform": [{"filter": "datum.panel === 'NN'"}],
         "mark": {"type": "text", "align": "left", "baseline": "alphabetic", "fontSize": 22, "lineHeight": 27, "color": "black"},
         "encoding": {"x": {"datum": 5, "type": "quantitative", "axis": null}, "y": {"datum": 0.69, "type": "quantitative", "axis": null}, "text": {"field": "text"}}}
      ]
    }
  ]
}
